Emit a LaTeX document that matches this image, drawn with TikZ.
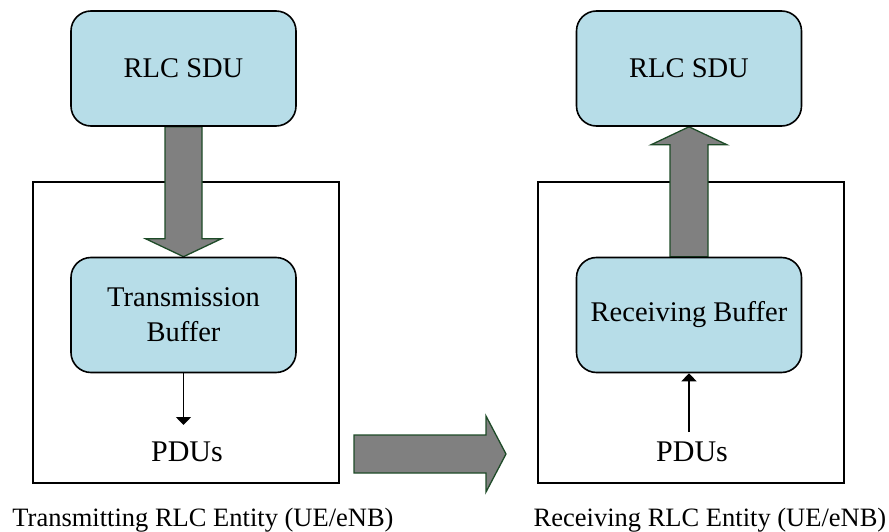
\documentclass[tikz,border=0pt]{standalone}
\usepackage{fontspec}
\setmainfont{Liberation Serif}
\usetikzlibrary{arrows.meta,calc}
\definecolor{boxblue}{HTML}{B7DDE8}
\definecolor{arrgray}{HTML}{808080}
\definecolor{arrgreen}{RGB}{30,75,40}
\pgfdeclarelayer{bg}
\pgfsetlayers{bg,main}
\begin{document}
\begin{tikzpicture}[x=1pt,y=-1pt,
  bufbox/.style={draw=black,line width=1.6pt,fill=boxblue,rounded corners=20pt,minimum width=225pt,minimum height=115pt,inner sep=0pt,align=center,font=\fontsize{28.5}{35}\selectfont},
  entity/.style={draw=black,line width=1.6pt,minimum width=306pt,minimum height=301pt,inner sep=0pt},
  pdutext/.style={font=\fontsize{30}{36}\selectfont,inner sep=0pt,anchor=base},
  caption/.style={font=\fontsize{26.5}{32}\selectfont,inner sep=0pt,anchor=base},
  fatarrow/.style={draw=arrgreen,line width=1.3pt,fill=arrgray,line join=miter},
  thinarrow/.style={line width=1.6pt,-{Triangle[width=15pt,length=8pt]}}]
\useasboundingbox (0,0) rectangle (889,532);

% blue boxes
\node[bufbox] (sduL) at (183.5,68.5) {RLC SDU};
\node[bufbox] (bufL) at (183.5,315) {Transmission\\Buffer};
\node[bufbox] (sduR) at (689,68.5) {RLC SDU};
\node[bufbox] (bufR) at (689,315) {Receiving Buffer};

% texts
\node[pdutext] (pdusL) at (187,461) {PDUs};
\node[pdutext] (pdusR) at (692,461) {PDUs};
\node[caption] (capL) at (203,526) {Transmitting RLC Entity (UE/eNB)};
\node[caption] (capR) at (710,526) {Receiving RLC Entity (UE/eNB)};

\coordinate (tipL) at (183.5,425);
\coordinate (tailR) at (689,432);
\coordinate (mtail) at (354,454);
\coordinate (mtip) at (506,454);

\begin{pgfonlayer}{bg}
\node[entity] (outL) at (186,332.5) {};
\node[entity] (outR) at (691,332.5) {};
% down arrow (transmit side)
\draw[fatarrow] ($(sduL.south)+(-18.5,0)$) -- ($(sduL.south)+(18.5,0)$)
  -- ($(bufL.north)+(18.5,-18)$) -- ($(bufL.north)+(38,-18)$) -- (bufL.north)
  -- ($(bufL.north)+(-38,-18)$) -- ($(bufL.north)+(-18.5,-18)$) -- cycle;
% up arrow (receive side)
\draw[fatarrow] ($(bufR.north)+(-19,0)$) -- ($(bufR.north)+(19,0)$)
  -- ($(sduR.south)+(19,18)$) -- ($(sduR.south)+(38,18)$) -- (sduR.south)
  -- ($(sduR.south)+(-38,18)$) -- ($(sduR.south)+(-19,18)$) -- cycle;
% middle arrow
\draw[fatarrow] ($(mtail)+(0,-19)$) -- ($(mtip)+(-20,-19)$) -- ($(mtip)+(-20,-38)$)
  -- (mtip) -- ($(mtip)+(-20,38)$) -- ($(mtip)+(-20,19)$) -- ($(mtail)+(0,19)$) -- cycle;
\end{pgfonlayer}

\draw[thinarrow] (bufL.south) -- (tipL);
\draw[thinarrow] (tailR) -- (bufR.south);
\end{tikzpicture}
\end{document}
